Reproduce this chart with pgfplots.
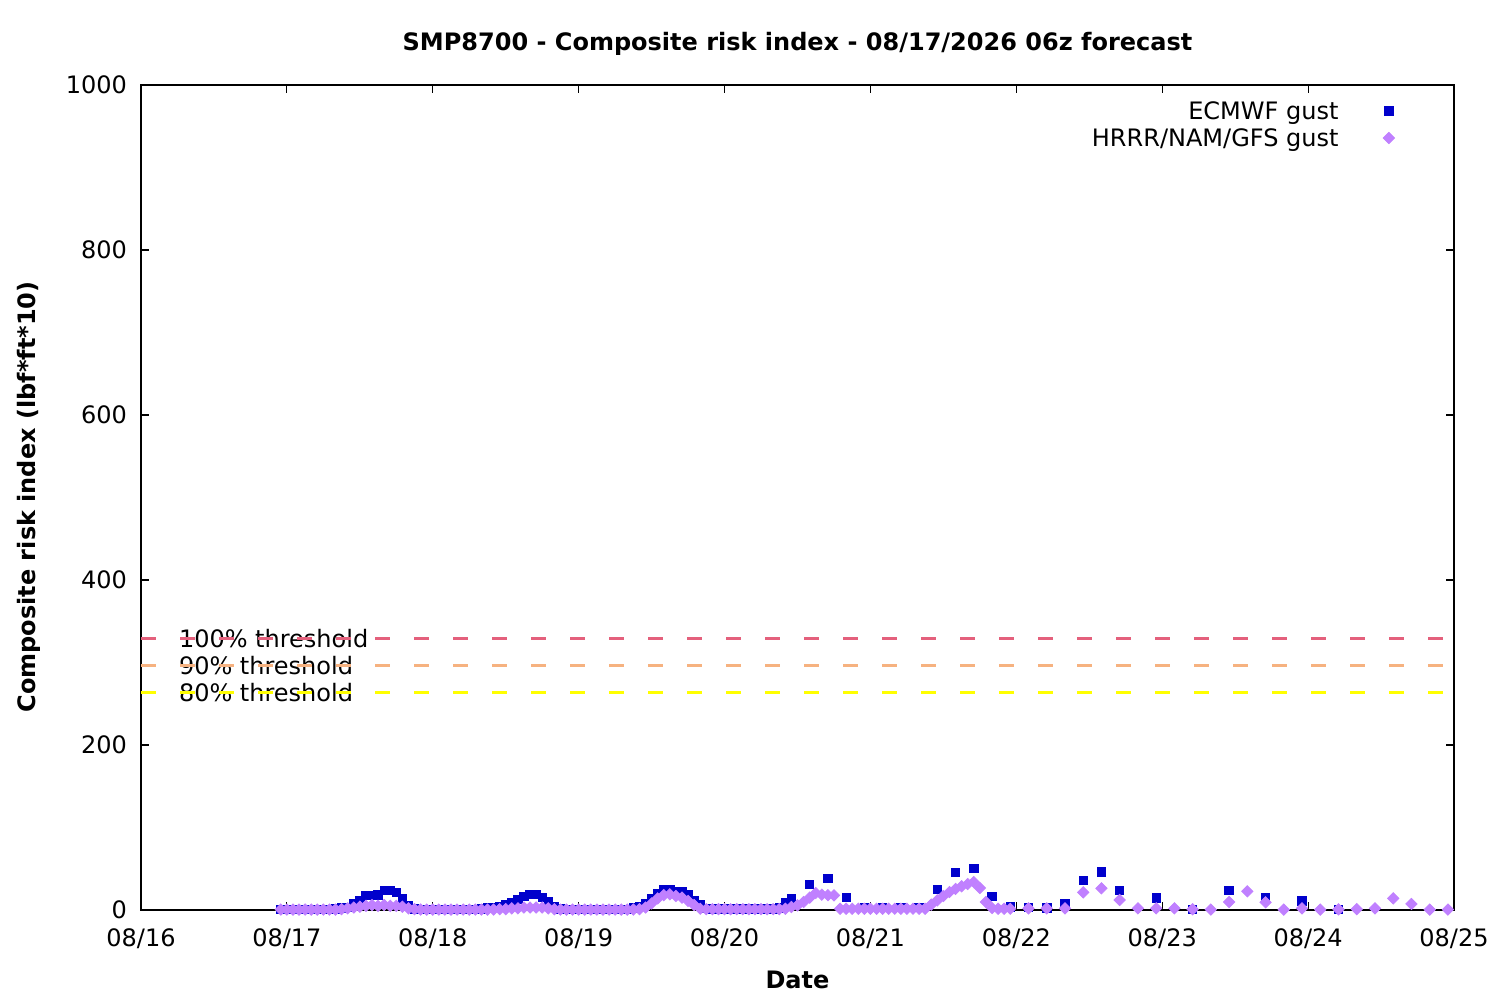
\documentclass[border=0pt]{standalone}
\usepackage{pgfplots}
\pgfplotsset{compat=1.18}
\usepackage{pgfplotstable}
\usepackage{fontspec}
\setmainfont{DejaVu Sans}
\definecolor{ecblue}{RGB}{0,0,204}
\definecolor{hrpurple}{RGB}{192,128,255}
\definecolor{thA}{RGB}{228,96,124}
\definecolor{thB}{RGB}{246,178,128}
\definecolor{thC}{RGB}{255,255,0}
\newcommand\fs{\fontsize{12bp}{14bp}\selectfont}
\newcommand\fsb{\fontsize{12bp}{14bp}\selectfont\bfseries}

\pgfplotstableread{
h v
23 1
24 1
25 1
26 1
27 1
28 1
29 1
30 1
31 1
32 1.5
33 2.6
34 3.5
35 7.5
36 11.5
37 18
38 18
39 18.5
40 23.5
41 23.5
42 21
43 14
44 5
45 1.5
46 1
47 1
48 1
49 1
50 1
51 1
52 1
53 1
54 1
55 1
56 1.5
57 2.6
58 3.4
59 4.6
60 6.7
61 9
62 12.7
63 16.4
64 19
65 19
66 15.6
67 10.7
68 4.2
69 1.5
70 1
71 1
72 1
73 1
74 1
75 1
76 1
77 1
78 1
79 1
80 1
81 2.6
82 4.6
83 8
84 14
85 20
86 25
87 25
88 22
89 22
90 19
91 11.5
92 6
93 2
94 1.5
95 1.5
96 1.5
97 1.5
98 1.5
99 1.5
100 1.5
101 1.5
102 1.5
103 1.5
104 1.5
105 2.5
106 8.5
107 13.7
110 31
113 38.4
116 15.4
119 3
122 3
125 3
128 3
131 25.2
134 45.5
137 50.5
140 16.4
143 4
146 2.8
149 2.6
152 7.5
155 35.8
158 46.3
161 23.6
167 14.7
173 1
179 23.6
185 14.7
191 11.1
197 0.6
}\ecmwf

\pgfplotstableread{
h v
23 0.5
24 0.5
25 0.5
26 0.5
27 0.5
28 0.5
29 0.5
30 0.5
31 0.5
32 0.5
33 1
34 2
35 3
36 4
37 5
38 6
39 5
40 6
41 5
42 5
43 4
44 2
45 1
46 0.5
47 0.5
48 0.5
49 0.5
50 0.5
51 0.5
52 0.5
53 0.5
54 0.5
55 0.5
56 0.5
57 0.5
58 0.5
59 1
60 1
61 2
62 2
63 3
64 3
65 3
66 3
67 2
68 1
69 0.5
70 0.5
71 0.5
72 0.5
73 0.5
74 0.5
75 0.5
76 0.5
77 0.5
78 0.5
79 0.5
80 0.5
81 0.5
82 1
83 3
84 8
85 14
86 18
87 19
88 17
89 15
90 11
91 6
92 1.5
93 1
94 1
95 1
96 1
97 1
98 1
99 1
100 1
101 1
102 1
103 1
104 1
105 1
106 1.5
107 3.6
108 5.6
109 9.7
110 15
111 20.6
112 18.6
113 18
114 17.8
115 1.5
116 1.5
117 1.5
118 1.5
119 1.5
120 1.5
121 1.5
122 1.5
123 1.5
124 1.5
125 1.5
126 1.5
127 1.5
128 1.5
129 1.5
130 6.5
131 11.7
132 17
133 21.8
134 25.5
135 28.7
136 31.5
137 33.9
138 26.7
139 9.7
140 2.4
141 1.5
142 1.5
143 1.5
146 2
149 2
152 2
155 21.4
158 26.3
161 12.1
164 2
167 2
170 2
173 0.8
176 0.5
179 9.7
182 22.6
185 9.3
188 0.5
191 2
194 0.5
197 0.8
200 1
203 2
206 14.1
209 7.3
212 0.5
215 0.5
}\hrrr

\begin{document}
\begin{tikzpicture}
\useasboundingbox (0,0) rectangle (750bp,500bp);
\begin{axis}[
  at={(70.5bp,45bp)}, anchor=south west,
  scale only axis, width=656.5bp, height=412.5bp,
  xmin=0, xmax=216, ymin=0, ymax=1000,
  xtick={0,24,48,72,96,120,144,168,192,216},
  xticklabels={08/16,08/17,08/18,08/19,08/20,08/21,08/22,08/23,08/24,08/25},
  ytick={0,200,400,600,800,1000},
  xtick pos=both, ytick pos=both,
  xticklabel pos=lower, yticklabel pos=left,
  tick align=inside,
  major tick length=4bp,
  minor tick num=0,
  axis line style={line width=0.75bp},
  every tick/.style={black, line width=0.6bp},
  tick label style={font=\fs},
  /pgf/number format/assume math mode=true,
  /pgf/number format/1000 sep={},
  yticklabel style={xshift=-3.5bp},
  xticklabel style={yshift=-6bp},
  clip=false,
  legend plot pos=right,
  legend cell align=right,
  legend style={at={(rel axis cs:0.955,0.983)}, anchor=north east,
     draw=none, fill=none, font=\fs, inner sep=0pt,
     nodes={inner sep=1bp}, row sep=1.2bp},
  legend image code/.code={\path (0bp,0bp); \draw[#1] plot coordinates {(24bp,0.5bp)};},
]
\node[anchor=west, font=\fs] at (axis cs:5.1,329) {100\% threshold};
\node[anchor=west, font=\fs] at (axis cs:5.1,296.1) {90\% threshold};
\node[anchor=west, font=\fs] at (axis cs:5.1,263.2) {80\% threshold};
\addplot[forget plot, thA, line width=1.5bp, dash pattern=on 7.5bp off 12bp] coordinates {(0,329) (216,329)};
\addplot[forget plot, thB, line width=1.5bp, dash pattern=on 7.5bp off 12bp] coordinates {(0,296.1) (216,296.1)};
\addplot[forget plot, thC, line width=1.5bp, dash pattern=on 7.5bp off 12bp] coordinates {(0,263.2) (216,263.2)};
\addplot[only marks, mark=square*, mark size=2.1bp, color=ecblue, mark options={draw=ecblue, fill=ecblue}] table[x=h, y=v] {\ecmwf};
\addlegendentry{ECMWF gust}
\addplot[only marks, mark=square*, mark size=2.0bp, color=hrpurple, mark options={draw=hrpurple, fill=hrpurple, rotate=45}] table[x=h, y=v] {\hrrr};
\addlegendentry{HRRR/NAM/GFS gust}
\end{axis}
\node[font=\fsb, anchor=base] at (398.75bp,474.5bp) {SMP8700 - Composite risk index - 08/17/2026 06z forecast};
\node[font=\fsb, anchor=base] at (398.75bp,6bp) {Date};
\node[font=\fsb, anchor=base, rotate=90] at (17.5bp,251.5bp) {Composite risk index (lbf*ft*10)};
\end{tikzpicture}
\end{document}
